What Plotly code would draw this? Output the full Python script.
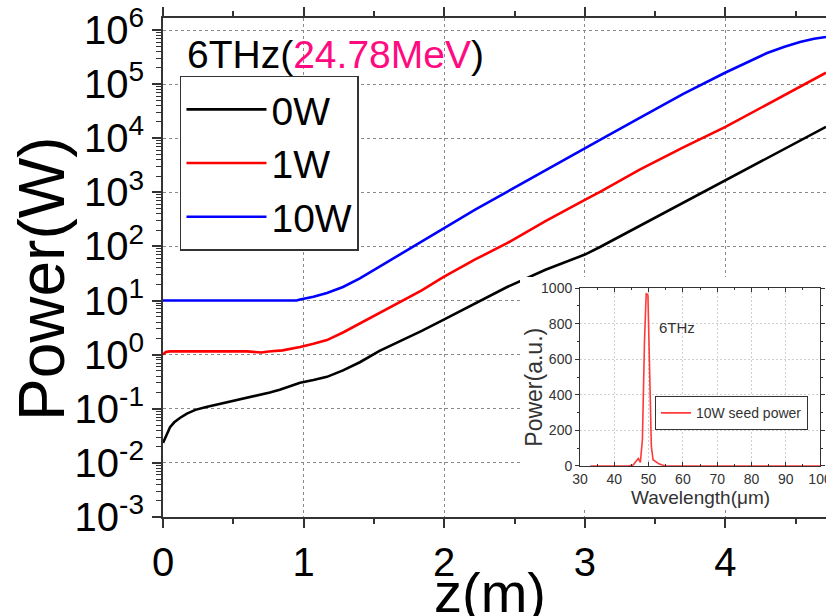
import plotly.graph_objects as go

# ---------------- data ----------------
# main plot: z (m) and log10(power / W)
z_0w = [0.0, 0.02, 0.05, 0.08, 0.12, 0.17, 0.23, 0.30, 0.37, 0.44, 0.51, 0.60, 0.69, 0.76, 0.83, 0.90,
        0.975, 1.07, 1.166, 1.28, 1.40, 1.54, 1.69, 1.84, 1.99, 2.22, 2.447, 2.72, 3.0, 3.108, 3.39, 3.70,
        4.0, 4.30, 4.50, 4.715]
lg_0w = [-1.63, -1.52, -1.34, -1.25, -1.17, -1.09, -1.02, -0.97, -0.93, -0.88, -0.84, -0.79, -0.75, -0.70,
         -0.65, -0.59, -0.52, -0.47, -0.41, -0.29, -0.14, 0.07, 0.25, 0.44, 0.64, 0.95, 1.25, 1.57, 1.85,
         1.99, 2.38, 2.81, 3.23, 3.64, 3.92, 4.21]

z_1w = [0.0, 0.02, 0.05, 0.15, 0.30, 0.45, 0.60, 0.70, 0.75, 0.85, 0.90, 0.975, 1.07, 1.166, 1.28, 1.40,
        1.543, 1.686, 1.84, 1.99, 2.22, 2.447, 2.72, 3.0, 3.108, 3.39, 3.70, 4.0, 4.30, 4.50, 4.715]
lg_1w = [0.0, 0.05, 0.06, 0.06, 0.06, 0.06, 0.06, 0.04, 0.06, 0.08, 0.10, 0.14, 0.20, 0.27, 0.41, 0.58,
         0.77, 0.97, 1.19, 1.43, 1.76, 2.06, 2.47, 2.86, 3.01, 3.42, 3.83, 4.21, 4.63, 4.91, 5.21]

z_10w = [0.0, 0.2, 0.4, 0.6, 0.8, 0.95, 0.975, 1.07, 1.166, 1.28, 1.40, 1.543, 1.75, 1.99, 2.22, 2.447,
         2.72, 2.966, 3.108, 3.40, 3.70, 3.997, 4.15, 4.296, 4.42, 4.53, 4.63, 4.715]
lg_10w = [1.0, 1.0, 1.0, 1.0, 1.0, 1.0, 1.02, 1.07, 1.14, 1.25, 1.41, 1.63, 1.95, 2.33, 2.68, 3.01,
          3.41, 3.77, 3.97, 4.39, 4.82, 5.21, 5.40, 5.575, 5.69, 5.78, 5.84, 5.87]

series_names = ["0W", "1W", "10W"]
series_colors = ["#000000", "#FF0000", "#0000FF"]

y_tick_exps = [-3, -2, -1, 0, 1, 2, 3, 4, 5, 6]
x_tick_vals = [0, 1, 2, 3, 4]

# inset: spectrum of the 10W seed power case
wl = [33, 44, 45.5, 46.5, 47.0, 47.6, 48.2, 48.8, 49.3, 49.8, 50.3, 50.8, 51.3, 52.0, 53.0, 54.0,
      55.0, 60, 70, 80, 90, 100]
spec = [0, 0, 5, 30, 42, 20, 150, 700, 970, 960, 520, 110, 35, 25, 12, 5, 0, 0, 0, 0, 0, 0]
inset_x_ticks = [30, 40, 50, 60, 70, 80, 90, 100]

# minor tick positions for the log axis (2..9 in each decade)
y_minor_vals = [m * 10.0 ** e for e in range(-3, 7) for m in range(2, 10)]

# ---------------- figure ----------------
fig = go.Figure()

for zz, lg, name, col in zip([z_0w, z_1w, z_10w], [lg_0w, lg_1w, lg_10w], series_names, series_colors):
    fig.add_trace(go.Scatter(
        x=zz, y=[10 ** v for v in lg], mode="lines", name=name,
        line=dict(color=col, width=2.6), legend="legend"))

# blank subplot that provides the white box behind the inset
fig.add_trace(go.Scatter(x=[], y=[], xaxis="x2", yaxis="y2", showlegend=False, hoverinfo="skip"))

# inset spectrum
fig.add_trace(go.Scatter(
    x=wl, y=spec, mode="lines", name="10W seed power",
    line=dict(color="#FF3A3A", width=1.6), xaxis="x3", yaxis="y3", legend="legend2"))

font_main = "Liberation Sans, Arial, sans-serif"
axis_col = "#333333"
grid_dash = "3px,3px"

fig.update_layout(
    width=826, height=616,
    margin=dict(l=163, r=0, t=18, b=99, autoexpand=False),
    paper_bgcolor="white", plot_bgcolor="white",
    font=dict(family=font_main, color="#000000"),
    xaxis=dict(
        range=[0, 4.715], domain=[0, 1], anchor="y", automargin=False,
        tickmode="array", tickvals=x_tick_vals,
        showline=True, linecolor=axis_col, linewidth=2, mirror="ticks",
        ticks="outside", ticklen=9, tickwidth=2, tickcolor=axis_col,
        minor=dict(dtick=0.5, ticks="outside", ticklen=5, tickwidth=1.5, tickcolor=axis_col, showgrid=False),
        showgrid=True, gridcolor="#8a8a8a", gridwidth=1, griddash=grid_dash,
        zeroline=False,
        tickfont=dict(size=40),
    ),
    yaxis=dict(
        type="log", range=[-3, 6.222], domain=[0, 1], anchor="x", automargin=False,
        tickmode="array", tickvals=[10.0 ** e for e in y_tick_exps],
        ticktext=["10<sup>%d</sup>" % e for e in y_tick_exps],
        showline=True, linecolor=axis_col, linewidth=2,
        ticks="outside", ticklen=9, tickwidth=2, tickcolor=axis_col,
        minor=dict(tickmode="array", tickvals=y_minor_vals, ticks="outside", ticklen=5, tickwidth=1.2,
                   tickcolor=axis_col, showgrid=False),
        showgrid=True, gridcolor="#8a8a8a", gridwidth=1, griddash=grid_dash,
        zeroline=False,
        tickfont=dict(size=40),
    ),
    # white box behind inset
    xaxis2=dict(domain=[0.5385, 1.0], anchor="y2", visible=False, range=[0, 1], automargin=False),
    yaxis2=dict(domain=[0.02, 0.481], anchor="x2", visible=False, range=[0, 1], automargin=False),
    # inset axes
    xaxis3=dict(
        domain=[0.629, 0.991], anchor="y3", range=[30, 100], tickmode="array",
        tickvals=inset_x_ticks, ticklabeloverflow="allow", automargin=False,
        showline=True, linecolor=axis_col, linewidth=1, mirror="ticks",
        ticks="inside", ticklen=4, tickcolor=axis_col,
        minor=dict(dtick=5, ticks="inside", ticklen=2, tickcolor=axis_col, showgrid=False),
        showgrid=True, gridcolor="#d0d0d0", gridwidth=1, griddash="2px,2px", zeroline=False,
        tickfont=dict(size=14, color=axis_col),
    ),
    yaxis3=dict(
        domain=[0.1022, 0.4589], anchor="x3", range=[0, 1000], dtick=200, automargin=False,
        showline=True, linecolor=axis_col, linewidth=1, mirror="ticks",
        ticks="outside", ticklen=4, tickcolor=axis_col,
        minor=dict(dtick=100, ticks="outside", ticklen=2, tickcolor=axis_col, showgrid=False),
        showgrid=True, gridcolor="#d0d0d0", gridwidth=1, griddash="2px,2px", zeroline=False,
        tickfont=dict(size=14, color=axis_col),
    ),
    legend=dict(
        x=0.0256, y=0.8838, xanchor="left", yanchor="top",
        bgcolor="white", bordercolor=axis_col, borderwidth=1.5,
        font=dict(size=39, color="#000000"), itemwidth=80, tracegroupgap=0,
    ),
    legend2=dict(
        x=0.742, y=0.242, xanchor="left", yanchor="top",
        bgcolor="white", bordercolor=axis_col, borderwidth=1,
        font=dict(size=14, color=axis_col), itemwidth=30,
    ),
    annotations=[
        dict(text='6THz(<span style="color:#FF0A80">24.78MeV</span>)',
             xref="paper", yref="paper", x=0.033, y=0.926, xanchor="left", yanchor="middle",
             showarrow=False, font=dict(size=39, color="#000000")),
        # main axis titles
        dict(text="Power(W)", xref="paper", yref="paper", x=-0.1825, y=0.477,
             xanchor="center", yanchor="middle", textangle=-90, showarrow=False,
             font=dict(size=64, color="#000000")),
        dict(text="z(m)", xref="paper", yref="paper", x=(490 - 163) / 663, y=-0.084,
             xanchor="center", yanchor="top", showarrow=False,
             font=dict(size=56, color="#000000")),
        # inset axis titles
        dict(text="Wavelength(μm)", xref="x3", yref="paper", x=65, y=0.040,
             xanchor="center", yanchor="middle", showarrow=False,
             font=dict(size=19, color=axis_col)),
        dict(text="Power(a.u.)", xref="paper", yref="y3", x=(534 - 163) / 663, y=440,
             xanchor="center", yanchor="middle", textangle=-90, showarrow=False,
             font=dict(size=23, color=axis_col)),
        dict(text="6THz", xref="x3", yref="y3", x=52.5, y=780, xanchor="left", yanchor="middle",
             showarrow=False, font=dict(size=15, color=axis_col)),
    ],
)

fig.write_html("out.html")
